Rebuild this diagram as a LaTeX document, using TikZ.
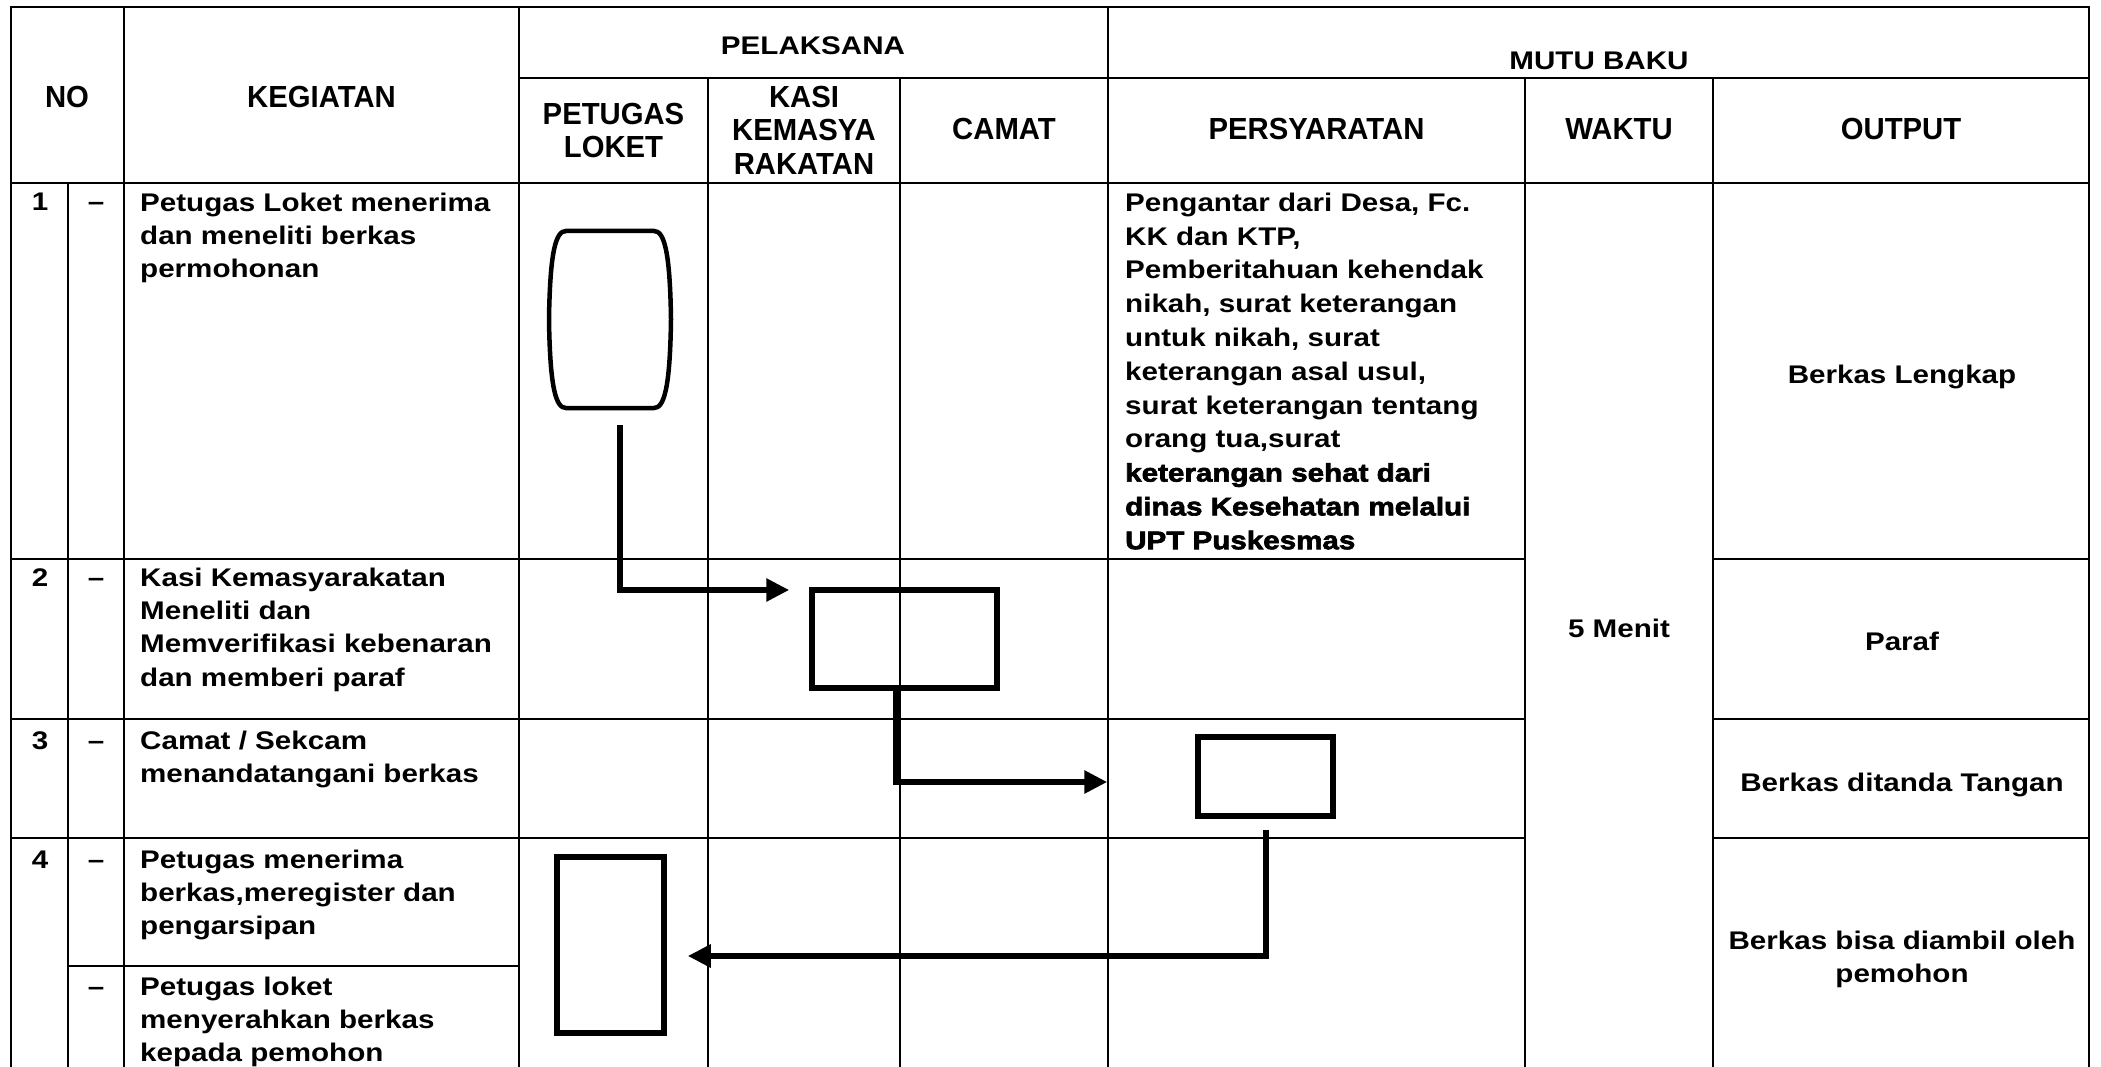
\documentclass[tikz,border=0pt]{standalone}
\usepackage{fontspec}
\setmainfont{Liberation Sans}
\newfontfamily\bodyf{Liberation Sans}[FakeStretch=1.16]
\newfontfamily\heavyf{Liberation Sans}[FakeStretch=1.16,FakeBold=2.5]
\newfontfamily\headf{Liberation Sans}[FakeStretch=0.96]
\usetikzlibrary{arrows.meta,calc}
\setlength{\parindent}{0pt}
\tikzset{
  grid/.style={line width=2.6pt, line cap=rect},
  shp/.style={draw, line width=5.5pt, inner sep=0pt},
  conn/.style={line width=6pt, -{Triangle[length=23pt,width=22pt]}},
  hdr/.style={font=\headf\bfseries\fontsize{30.5}{33.5}\selectfont, inner sep=0pt},
  bod/.style={font=\bodyf\bfseries\fontsize{25.5}{33.3}\selectfont, inner sep=0pt},
}
\newcommand{\fs}{\rule{0pt}{24pt}}
\begin{document}
\begin{tikzpicture}[x=1pt,y=-1pt]
\useasboundingbox (0,0) rectangle (2101,1067);
\fill[white] (0,0) rectangle (2101,1067);

% grid
\draw[grid] (11,7) -- (2089,7);
\draw[grid] (519,78) -- (2089,78);
\draw[grid] (11,183) -- (2089,183);
\foreach \y in {559,719,838}{
  \draw[grid] (11,\y) -- (1525,\y);
  \draw[grid] (1713,\y) -- (2089,\y);
}
\draw[grid] (68,966) -- (519,966);
\foreach \x in {11,124,519,1108,2089}{\draw[grid] (\x,7) -- (\x,1075);}
\foreach \x in {708,900,1525,1713}{\draw[grid] (\x,78) -- (\x,1075);}
\draw[grid] (68,183) -- (68,1075);

% headers
\node[hdr, anchor=base] (hNO) at (67,108) {NO};
\node[hdr, anchor=base] (hKEG) at (321.5,108) {KEGIATAN};
\node[bod, anchor=base] (hPEL) at (813,55) {PELAKSANA};
\node[bod, anchor=base] (hMUTU) at (1599,70) {MUTU BAKU};
\node[hdr, anchor=north, align=center] (hPET) at (613.5,100) {\fs PETUGAS\\LOKET};
\node[hdr, anchor=north, align=center] (hKASI) at (804,83) {\fs KASI\\KEMASYA\\RAKATAN};
\node[hdr, anchor=base] (hCAM) at (1004,140) {CAMAT};
\node[hdr, anchor=base] (hPER) at (1316.5,140) {PERSYARATAN};
\node[hdr, anchor=base] (hWAK) at (1619,140) {WAKTU};
\node[hdr, anchor=base] (hOUT) at (1901,140) {OUTPUT};

% numbers and dashes
\node[bod, anchor=base] (n1) at (40,211) {1};
\node[bod, anchor=base] (d1) at (96,211) {–};
\node[bod, anchor=base] (n2) at (40,586) {2};
\node[bod, anchor=base] (d2) at (96,586) {–};
\node[bod, anchor=base] (n3) at (40,749) {3};
\node[bod, anchor=base] (d3) at (96,749) {–};
\node[bod, anchor=base] (n4) at (40,868) {4};
\node[bod, anchor=base] (d4) at (96,868) {–};
\node[bod, anchor=base] (d5) at (96,995) {–};

% kegiatan
\node[bod, anchor=north west, align=left] (k1t) at (140,187) {\fs Petugas Loket menerima\\dan meneliti berkas\\permohonan};
\node[bod, anchor=north west, align=left] (k2t) at (140,562) {\fs Kasi Kemasyarakatan\\Meneliti dan\\Memverifikasi kebenaran\\dan memberi paraf};
\node[bod, anchor=north west, align=left] (k3t) at (140,725) {\fs Camat / Sekcam\\menandatangani berkas};
\node[bod, anchor=north west, align=left] (k4t) at (140,844) {\fs Petugas menerima\\berkas,meregister dan\\pengarsipan};
\node[bod, anchor=north west, align=left] (k5t) at (140,971) {\fs Petugas loket\\menyerahkan berkas\\kepada pemohon};

% persyaratan
\node[bod, font=\bodyf\bfseries\fontsize{25.5}{33.8}\selectfont, anchor=north west, align=left] (per) at (1125,187)
 {\fs Pengantar dari Desa, Fc.\\KK dan KTP,\\Pemberitahuan kehendak\\nikah, surat keterangan\\untuk nikah, surat\\keterangan asal usul,\\surat keterangan tentang\\orang tua,surat\\{\heavyf\bfseries keterangan sehat dari}\\{\heavyf\bfseries dinas Kesehatan melalui}\\{\heavyf\bfseries UPT Puskesmas}};

% waktu and output
\node[bod, anchor=base] (w1) at (1619,637) {5 Menit};
\node[bod, anchor=base] (o1) at (1902,383) {Berkas Lengkap};
\node[bod, anchor=base] (o2) at (1902,650) {Paraf};
\node[bod, anchor=base] (o3) at (1902,791) {Berkas ditanda Tangan};
\node[bod, font=\bodyf\bfseries\fontsize{25.5}{33}\selectfont, anchor=north, align=center] (o4) at (1902,925) {\fs Berkas bisa diambil oleh\\pemohon};

% flow shapes
\node[inner sep=0pt, minimum width=122pt, minimum height=177pt] (t1) at (610,319.5) {};
\draw[line width=4.5pt] (566,231) -- (654,231)
  .. controls (664,231) and (670,250) .. (671,319.5)
  .. controls (670,389) and (664,408) .. (654,408)
  -- (566,408)
  .. controls (556,408) and (550,389) .. (549,319.5)
  .. controls (550,250) and (556,231) .. (566,231) -- cycle;
\node[shp, minimum width=185pt, minimum height=98pt] (k1) at (904.5,639) {};
\node[shp, minimum width=135pt, minimum height=79pt] (c1) at (1265.5,776.5) {};
\node[shp, minimum width=107pt, minimum height=176pt] (p1) at (610.5,945) {};

% connectors
\coordinate (a1) at ($(t1.south)+(10,17)$);
\coordinate (a1e) at ($(k1.west)+(-20,-49)$);
\draw[conn] (a1) |- (a1e);
\coordinate (b1) at ($(k1.south)+(-8.5,0)$);
\coordinate (b1e) at ($(c1.west)+(-88,5.5)$);
\draw[conn] (b1) |- (b1e);
\coordinate (e1) at ($(c1.south)+(0.5,11)$);
\coordinate (e1e) at ($(p1.east)+(21,11)$);
\draw[conn] (e1) |- (e1e);
\end{tikzpicture}
\end{document}
